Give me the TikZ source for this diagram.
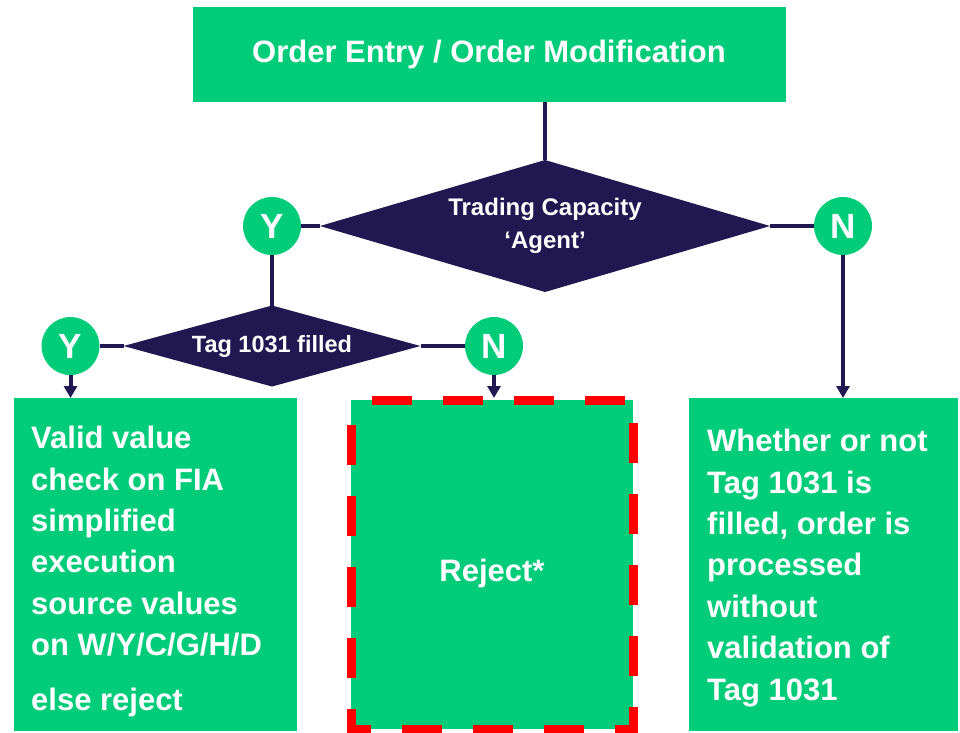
\documentclass[tikz,border=0pt]{standalone}
\usepackage{fontspec}
\setmainfont{Liberation Sans}
\usetikzlibrary{shapes.geometric,arrows.meta}
\definecolor{fgreen}{RGB}{0,204,122}
\definecolor{navy}{RGB}{33,24,82}
\definecolor{dred}{RGB}{255,0,0}
\begin{document}
\begin{tikzpicture}[x=1pt,y=-1pt,
  box/.style={fill=fgreen, inner sep=0pt, outer sep=0pt},
  txt/.style={text=white, font=\bfseries\fontsize{31}{41.4}\selectfont, inner sep=0pt, align=left, anchor=north west},
  dec/.style={diamond, fill=navy, inner sep=0pt, outer sep=0pt, text=white, font=\bfseries\fontsize{24}{33}\selectfont, align=center},
  yn/.style={circle, fill=fgreen, minimum size=58pt, inner sep=0pt, outer sep=0pt, text=white, font=\bfseries\fontsize{35}{35}\selectfont},
  conn/.style={draw=navy, line width=4pt},
  arr/.style={conn, -{Triangle[width=13pt,length=12pt]}},
]
\useasboundingbox (0,0) rectangle (960,732);

\node[box, minimum width=593pt, minimum height=95pt, text=white, font=\bfseries\fontsize{31}{37}\selectfont] (top) at (489,54.5) {Order Entry / Order Modification};

\node[dec, aspect=3.41, minimum width=450pt, minimum height=132pt] (d1) at (545,226) {Trading Capacity\\‘Agent’};
\node[yn] (y1) at (272,226) {Y};
\node[yn] (n1) at (843,226) {N};

\node[dec, aspect=3.67, minimum width=297pt, minimum height=81pt, font=\bfseries\fontsize{23.5}{28}\selectfont] (d2) at (272,346) {Tag 1031 filled};
\node[yn] (y2) at (70.5,346) {Y};
\node[yn] (n2) at (494,346) {N};

\node[box, minimum width=283pt, minimum height=333pt] (lbox) at (155.5,564.5) {};
\node[txt] (ltext) at (31,426) {Valid value\\check on FIA\\simplified\\execution\\source values\\on W/Y/C/G/H/D\\[13pt]else reject};

\node[box, minimum width=282pt, minimum height=329pt] (rbox) at (492,564.5) {};
\draw[dred, line width=9pt, dash pattern=on 40pt off 31pt, dash phase=50pt]
  (rbox.north west) -- (rbox.north east) -- (rbox.south east) -- (rbox.south west) -- cycle;
\node[text=white, font=\bfseries\fontsize{31}{37}\selectfont, inner sep=0pt] (rtext) at (492,573) {Reject*};

\node[box, minimum width=269pt, minimum height=333pt] (rtbox) at (823.5,564.5) {};
\node[txt] (wtext) at (707,429) {Whether or not\\Tag 1031 is\\filled, order is\\processed\\without\\validation of\\Tag 1031};

\draw[conn] (top.south -| d1.north) -- (d1.north);
\draw[conn] (y1.east) -- (d1.west);
\draw[conn] (d1.east) -- (n1.west);
\draw[conn] (y1.south) -- (d2.north);
\draw[conn] (y2.east) -- (d2.west);
\draw[conn] (d2.east) -- (n2.west);
\draw[arr] (y2.south) -- (lbox.north -| y2.south);
\draw[arr] (n2.south) -- ([yshift=2pt]rbox.north -| n2.south);
\draw[arr] (n1.south) -- (rtbox.north -| n1.south);
\end{tikzpicture}
\end{document}
